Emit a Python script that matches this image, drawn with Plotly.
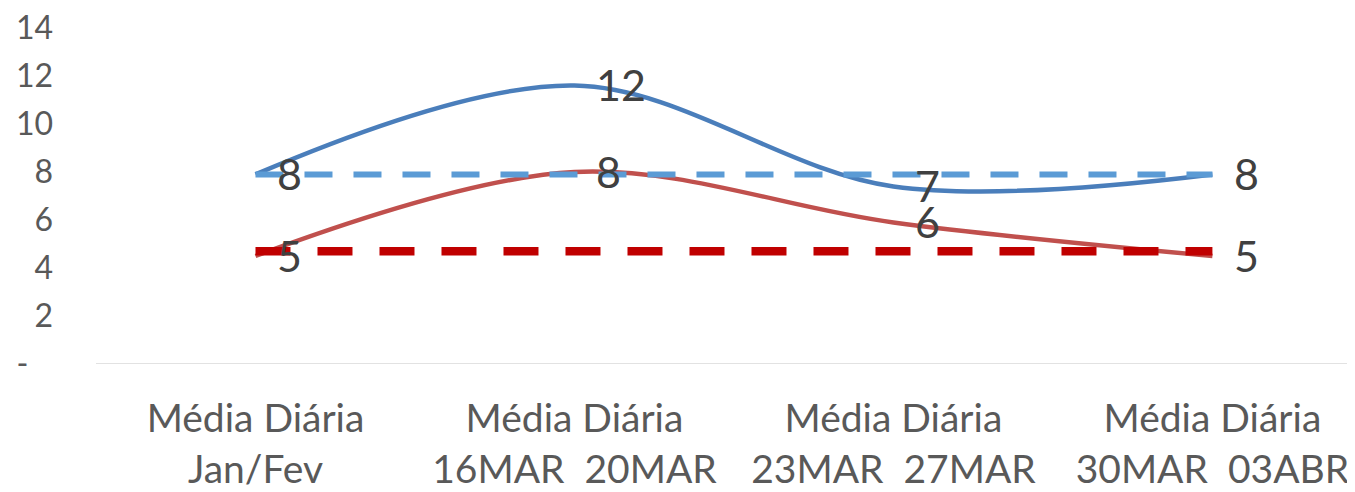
import math
import plotly.graph_objects as go

categories = ["Média Diária<br>Jan/Fev", "Média Diária<br>16MAR  20MAR",
              "Média Diária<br>23MAR  27MAR", "Média Diária<br>30MAR  03ABR"]
blue_values = [7.9, 11.6, 7.4, 7.9]
red_values = [4.5, 8.0, 5.9, 4.5]
blue_avg = [7.9, 7.9, 7.9, 7.9]
red_avg = [4.7, 4.7, 4.7, 4.7]
y_tickvals = [0, 2, 4, 6, 8, 10, 12, 14]
y_ticktext = ["-\u00a0\u00a0\u00a0", "2", "4", "6", "8", "10", "12", "14"]

FONT = "Lato"
x_idx = list(range(len(categories)))

fig = go.Figure()
fig.add_trace(go.Scatter(
    x=x_idx, y=blue_values, mode="lines",
    line=dict(color="#4A7EBB", width=4.5, shape="spline", smoothing=1.0),
    hoverinfo="skip", showlegend=False))
fig.add_trace(go.Scatter(
    x=x_idx, y=red_values, mode="lines",
    line=dict(color="#C0504D", width=4.5, shape="spline", smoothing=1.0),
    hoverinfo="skip", showlegend=False))
fig.add_trace(go.Scatter(
    x=x_idx, y=blue_avg, mode="lines",
    line=dict(color="#5B9BD5", width=6, dash="28px,21px"),
    hoverinfo="skip", showlegend=False))
fig.add_trace(go.Scatter(
    x=x_idx, y=red_avg, mode="lines",
    line=dict(color="#C00000", width=8.5, dash="35px,27px"),
    hoverinfo="skip", showlegend=False))

annotations = []
for series in (blue_values, red_values):
    for xi, v in zip(x_idx, series):
        annotations.append(dict(
            x=xi, y=v, xref="x", yref="y", text=str(math.floor(v + 0.5)),
            showarrow=False, xanchor="left", yanchor="middle",
            xshift=20, yshift=1,
            font=dict(family=FONT, size=43, color="#404040")))

fig.update_layout(
    width=1347, height=484,
    margin=dict(l=88, r=0, t=20, b=128),
    paper_bgcolor="white", plot_bgcolor="white",
    font=dict(family=FONT, color="#595959"),
    xaxis=dict(
        range=[-0.5, 3.447], tickvals=x_idx, ticktext=categories,
        showgrid=False, zeroline=False, showline=False,
        ticks="", tickfont=dict(family=FONT, size=39, color="#595959"),
        ticklabelstandoff=28, ticklabeloverflow="allow"),
    yaxis=dict(
        range=[0, 14], tickvals=y_tickvals, ticktext=y_ticktext,
        showgrid=False, zeroline=False, showline=False, ticks="",
        tickfont=dict(family=FONT, size=32, color="#595959"),
        ticklabelstandoff=42, ticklabeloverflow="allow"),
    annotations=annotations,
    shapes=[dict(type="line", xref="paper", yref="y", x0=0, x1=1, y0=0, y1=0,
                 line=dict(color="#D9D9D9", width=1.5))],
)

fig.write_html("out.html")
